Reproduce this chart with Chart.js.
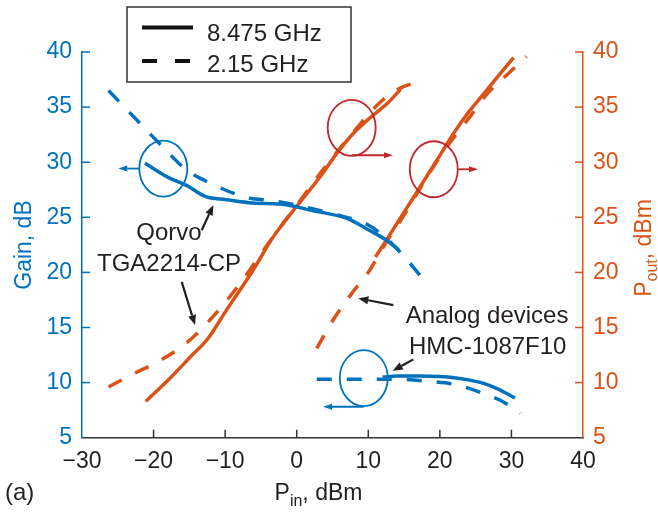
<!DOCTYPE html>
<html><head><meta charset="utf-8">
<script src="https://cdn.jsdelivr.net/npm/chart.js@4.4.1/dist/chart.umd.min.js"></script>
<style>html,body{margin:0;padding:0;background:#fff;}#wrap{width:658px;height:512px;}</style>
</head><body><div id="wrap"><canvas id="c" width="658" height="512"></canvas></div>
<script>
// ---- tick values ----
const xTicks = [-30, -20, -10, 0, 10, 20, 30, 40];
const yTicks = [5, 10, 15, 20, 25, 30, 35, 40];
const legendLabels = ['8.475 GHz', '2.15 GHz'];

// ---- Qorvo TGA2214-CP ----
const qGainHiX = [-21.2, -17.9, -15.4, -12.8, -9.8, -6.1, -2.3, 2.3, 7.0, 10.2, 12.6, 14.3];
const qGainHiY = [29.9, 28.6, 27.9, 26.9, 26.6, 26.3, 26.2, 25.6, 24.9, 23.8, 22.9, 22.0];
const qGainLoX = [-26.3, -21.7, -18.6, -15.4, -12.1, -7.0, -3.3, 0, 5.1, 10.0, 13.0, 15.2, 17.2];
const qGainLoY = [36.5, 33.4, 31.3, 29.3, 28.1, 26.8, 26.5, 26.1, 25.3, 24.3, 22.8, 21.3, 19.75];
const qPoutHiX = [-21.1, -17.7, -14.9, -12.4, -9.8, -6.1, -3.3, 0, 3.3, 5.6, 7.9, 10.2, 12.6, 14.5];
const qPoutHiY = [8.3, 10.4, 12.3, 14.0, 16.6, 20.2, 23.2, 26.0, 28.7, 30.8, 32.6, 34.0, 35.3, 36.6];
const qPoutLoX = [-26.3, -22.8, -19.1, -15.4, -12.1, -7.9, -4.0, 0, 4.0, 8.0, 11.6, 14.4, 16.5, 17.9];
const qPoutLoY = [9.6, 10.8, 12.0, 13.6, 15.7, 19.0, 22.6, 26.1, 29.6, 32.8, 35.4, 36.7, 37.2, 37.4];

// ---- Analog Devices HMC-1087F10 ----
const hGainHiX = [12.0, 14.0, 17.0, 20.0, 22.0, 24.0, 26.0, 28.0, 30.5];
const hGainHiY = [10.5, 10.6, 10.6, 10.55, 10.45, 10.25, 9.95, 9.45, 8.6];
const hGainLoX = [2.8, 6.0, 10.0, 14.0, 18.6, 22.3, 26.5, 29.0, 31.2];
const hGainLoY = [10.3, 10.3, 10.3, 10.3, 10.1, 9.8, 8.9, 8.2, 7.2];
const hPoutHiX = [11.0, 12.3, 16.8, 19.6, 22.0, 24.2, 26.0, 28.0, 30.3];
const hPoutHiY = [21.4, 22.7, 27.3, 30.2, 32.7, 34.7, 36.1, 37.7, 39.5];
const hPoutLoX = [2.8, 5.1, 7.7, 10.2, 12.1, 15.0, 19.0, 22.0, 24.3, 26.6, 29.5, 32.1];
const hPoutLoY = [13.1, 15.7, 18.1, 20.2, 22.3, 25.2, 29.5, 32.3, 34.2, 36.2, 38.0, 39.6];

const BLUE = '#0072BD', ORANGE = '#D95319', RED = '#C1272D', DARK = '#231F20', AXIS = '#333333';
const FONT = '"Liberation Sans", Arial, Helvetica, sans-serif';
const DASH = [15, 15];

const pts = (xs, ys) => xs.map((x, i) => ({x: x, y: ys[i]}));
function ds(label, xs, ys, color, dashed, axis) {
  return {label, data: pts(xs, ys), borderColor: color, backgroundColor: color,
    borderWidth: 3.5, borderDash: dashed ? DASH : [], borderCapStyle: 'butt',
    pointRadius: 0, cubicInterpolationMode: 'monotone', yAxisID: axis, clip: false, fill: false};
}

// annotation positions (data coordinates)
const ellipses = [
  {cx: -18.64, cy: 29.42, color: BLUE, ax1: -22.0, ay1: 29.42, ax2: -24.93, ay2: 29.42},
  {cx: 7.68, cy: 33.12, color: RED, ax1: 7.68, ay1: 30.63, ax2: 13.45, ay2: 30.63},
  {cx: 19.15, cy: 29.36, color: RED, ax1: 22.53, ay1: 29.36, ax2: 25.33, ay2: 29.36},
  {cx: 9.37, cy: 10.41, color: BLUE, ax1: 9.37, ay1: 7.81, ax2: 3.67, ay2: 7.81}
];
const labels = [
  {text: 'Qorvo', x: -17.84, y: 22.92},
  {text: 'TGA2214-CP', x: -17.84, y: 20.16},
  {text: 'Analog devices', x: 26.59, y: 15.44},
  {text: 'HMC-1087F10', x: 26.69, y: 12.59}
];
const pointers = [
  [-13.28, 23.83, -11.65, 26.1],
  [-16.07, 19.14, -14.21, 15.22],
  [13.5, 17.03, 8.61, 17.64],
  [16.29, 12.11, 13.41, 11.07]
];

function arrow(ctx, x1, y1, x2, y2, color, lw, hl, hw) {
  const ang = Math.atan2(y2 - y1, x2 - x1);
  const bx = x2 - hl * Math.cos(ang), by = y2 - hl * Math.sin(ang);
  ctx.strokeStyle = color; ctx.fillStyle = color; ctx.lineWidth = lw; ctx.setLineDash([]);
  ctx.beginPath(); ctx.moveTo(x1, y1); ctx.lineTo(bx, by); ctx.stroke();
  ctx.beginPath(); ctx.moveTo(x2, y2);
  ctx.lineTo(bx + hw / 2 * Math.sin(ang), by - hw / 2 * Math.cos(ang));
  ctx.lineTo(bx - hw / 2 * Math.sin(ang), by + hw / 2 * Math.cos(ang));
  ctx.closePath(); ctx.fill();
}

const deco = {
  id: 'deco',
  afterDraw(chart) {
    const ctx = chart.ctx, a = chart.chartArea;
    const xs = chart.scales.x, yl = chart.scales.yL, yr = chart.scales.yR;
    ctx.save();
    // inward ticks
    ctx.lineWidth = 1.5; ctx.setLineDash([]);
    ctx.strokeStyle = AXIS;
    xTicks.forEach(v => { if (v === xs.min || v === xs.max) return; const p = xs.getPixelForValue(v);
      ctx.beginPath(); ctx.moveTo(p, a.bottom); ctx.lineTo(p, a.bottom - 8); ctx.stroke(); });
    ctx.strokeStyle = BLUE;
    yTicks.forEach(v => { if (v === yl.min) return; const p = yl.getPixelForValue(v);
      ctx.beginPath(); ctx.moveTo(a.left, p); ctx.lineTo(a.left + 8, p); ctx.stroke(); });
    ctx.strokeStyle = ORANGE;
    yTicks.forEach(v => { if (v === yr.min) return; const p = yr.getPixelForValue(v);
      ctx.beginPath(); ctx.moveTo(a.right, p); ctx.lineTo(a.right - 8, p); ctx.stroke(); });

    // ellipses with arrows
    ellipses.forEach(e => {
      const cx = xs.getPixelForValue(e.cx), cy = yl.getPixelForValue(e.cy);
      ctx.strokeStyle = e.color; ctx.lineWidth = 1.8;
      ctx.beginPath(); ctx.ellipse(cx, cy, 24, 28, 0, 0, Math.PI * 2); ctx.stroke();
      arrow(ctx, xs.getPixelForValue(e.ax1), yl.getPixelForValue(e.ay1),
        xs.getPixelForValue(e.ax2), yl.getPixelForValue(e.ay2), e.color, 1.8, 9, 6);
    });
    // black pointers
    pointers.forEach(p => arrow(ctx, xs.getPixelForValue(p[0]), yl.getPixelForValue(p[1]),
      xs.getPixelForValue(p[2]), yl.getPixelForValue(p[3]), DARK, 2.2, 10, 8));
    // text labels
    ctx.fillStyle = DARK; ctx.font = '24px ' + FONT; ctx.textAlign = 'center'; ctx.textBaseline = 'alphabetic';
    labels.forEach(l => ctx.fillText(l.text, xs.getPixelForValue(l.x), yl.getPixelForValue(l.y)));

    // legend box
    const lx = a.left + 45, ly = 7;
    ctx.strokeStyle = AXIS; ctx.lineWidth = 1.5;
    ctx.strokeRect(lx, ly, 224, 75);
    ctx.strokeStyle = '#111'; ctx.lineWidth = 4;
    ctx.beginPath(); ctx.moveTo(lx + 15, ly + 20.5); ctx.lineTo(lx + 66, ly + 20.5); ctx.stroke();
    ctx.setLineDash([15, 18]);
    ctx.beginPath(); ctx.moveTo(lx + 15, ly + 54); ctx.lineTo(lx + 66, ly + 54); ctx.stroke();
    ctx.setLineDash([]);
    ctx.fillStyle = DARK; ctx.textAlign = 'left'; ctx.textBaseline = 'alphabetic'; ctx.font = '24px ' + FONT;
    ctx.fillText(legendLabels[0], lx + 80, ly + 34);
    ctx.fillText(legendLabels[1], lx + 80, ly + 65);

    // axis titles
    const xc = (a.left + a.right) / 2;
    ctx.textAlign = 'left';
    const big = '23px ' + FONT, small = '16px ' + FONT;
    function subTitle(parts, x0, y0) {
      let x = x0;
      parts.forEach(p => { ctx.font = p[1] ? small : big; ctx.fillText(p[0], x, y0 + (p[1] ? 6 : 0)); x += ctx.measureText(p[0]).width; });
      return x - x0;
    }
    function width(parts) { let w = 0; parts.forEach(p => { ctx.font = p[1] ? small : big; w += ctx.measureText(p[0]).width; }); return w; }
    const xt = [['P', 0], ['in', 1], [', dBm', 0]];
    ctx.fillStyle = DARK;
    subTitle(xt, xc - 14 - width(xt) / 2, 500);
    // left title
    ctx.save(); ctx.translate(31, 245); ctx.rotate(-Math.PI / 2);
    ctx.fillStyle = BLUE; ctx.font = big; ctx.textAlign = 'center'; ctx.fillText('Gain, dB', 0, 0);
    ctx.restore();
    // right title
    const rt = [['P', 0], ['out', 1], [', dBm', 0]];
    ctx.save(); ctx.translate(651, 248); ctx.rotate(-Math.PI / 2);
    ctx.fillStyle = ORANGE; ctx.textAlign = 'left';
    subTitle(rt, -width(rt) / 2, 0);
    ctx.restore();
    // panel label
    ctx.fillStyle = DARK; ctx.font = '24px ' + FONT; ctx.textAlign = 'left';
    ctx.fillText('(a)', 5, 500);
    ctx.restore();
  }
};

new Chart(document.getElementById('c'), {
  type: 'line',
  data: {datasets: [
    ds('Qorvo Gain 8.475 GHz', qGainHiX, qGainHiY, BLUE, false, 'yL'),
    ds('Qorvo Gain 2.15 GHz', qGainLoX, qGainLoY, BLUE, true, 'yL'),
    ds('HMC Gain 8.475 GHz', hGainHiX, hGainHiY, BLUE, false, 'yL'),
    ds('HMC Gain 2.15 GHz', hGainLoX, hGainLoY, BLUE, true, 'yL'),
    ds('Qorvo Pout 8.475 GHz', qPoutHiX, qPoutHiY, ORANGE, false, 'yR'),
    ds('Qorvo Pout 2.15 GHz', qPoutLoX, qPoutLoY, ORANGE, true, 'yR'),
    ds('HMC Pout 8.475 GHz', hPoutHiX, hPoutHiY, ORANGE, false, 'yR'),
    ds('HMC Pout 2.15 GHz', hPoutLoX, hPoutLoY, ORANGE, true, 'yR')
  ]},
  options: {
    responsive: false, animation: false, devicePixelRatio: 1,
    layout: {padding: {top: 52, left: 0, right: 0, bottom: 0}},
    plugins: {legend: {display: false}, tooltip: {enabled: false}},
    scales: {
      x: {type: 'linear', position: 'bottom', min: xTicks[0], max: xTicks[xTicks.length - 1],
        afterBuildTicks: s => { s.ticks = xTicks.map(v => ({value: v})); },
        ticks: {color: DARK, font: {size: 23, family: FONT}, padding: 10, maxRotation: 0, autoSkip: false,
          callback: v => String(v).replace('-', '\u2212')},
        grid: {display: false, drawTicks: false},
        border: {display: true, color: AXIS, width: 1.5},
        afterFit: s => { s.height = 74.3; }},
      yL: {type: 'linear', position: 'left', min: yTicks[0], max: yTicks[yTicks.length - 1],
        afterBuildTicks: s => { s.ticks = yTicks.map(v => ({value: v})); },
        ticks: {color: BLUE, font: {size: 23, family: FONT}, padding: 10, autoSkip: false},
        grid: {display: false, drawTicks: false},
        border: {display: true, color: BLUE, width: 1.5},
        afterFit: s => { s.width = 82; }},
      yR: {type: 'linear', position: 'right', min: yTicks[0], max: yTicks[yTicks.length - 1],
        afterBuildTicks: s => { s.ticks = yTicks.map(v => ({value: v})); },
        ticks: {color: ORANGE, font: {size: 23, family: FONT}, padding: 10, autoSkip: false},
        grid: {display: false, drawTicks: false},
        border: {display: true, color: ORANGE, width: 1.5},
        afterFit: s => { s.width = 75; }}
    }
  },
  plugins: [deco]
});
</script></body></html>
